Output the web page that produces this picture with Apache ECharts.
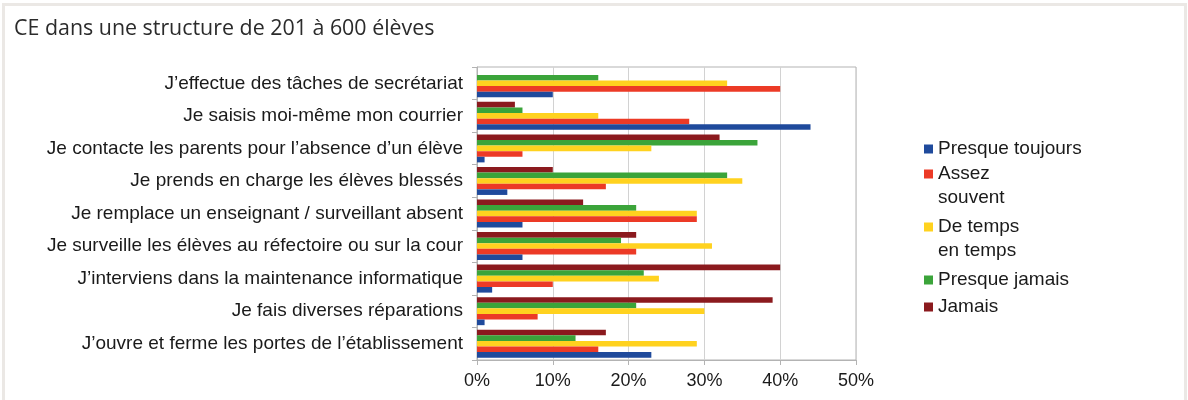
<!DOCTYPE html>
<html>
<head>
<meta charset="utf-8">
<script src="https://cdn.jsdelivr.net/npm/echarts@6/dist/echarts.min.js"></script>
<style>
  html, body { margin: 0; padding: 0; background: #fff; overflow: hidden; }
  #frame { position: absolute; left: 2px; top: 3px; width: 1185px; height: 420px;
           border: 3px solid #ebe8e5; border-bottom: none; box-sizing: border-box; }
  #chart { position: absolute; left: 0; top: 0; width: 1188px; height: 400px; }
</style>
</head>
<body>
<div id="frame"></div>
<div id="chart"></div>
<script>
// Activities of the CE, share of answers per frequency (in %)
const categories = [
  "J’effectue des tâches de secrétariat",
  "Je saisis moi-même mon courrier",
  "Je contacte les parents pour l’absence d’un élève",
  "Je prends en charge les élèves blessés",
  "Je remplace un enseignant / surveillant absent",
  "Je surveille les élèves au réfectoire ou sur la cour",
  "J’interviens dans la maintenance informatique",
  "Je fais diverses réparations",
  "J’ouvre et ferme les portes de l’établissement"
];

const presqueToujours = [10, 44, 1, 4, 6, 6, 2, 1, 23];
const assezSouvent    = [40, 28, 6, 17, 29, 21, 10, 8, 16];
const deTempsEnTemps  = [33, 16, 23, 35, 29, 31, 24, 30, 29];
const presqueJamais   = [16, 6, 37, 33, 21, 19, 22, 21, 13];
const jamais          = [0, 5, 32, 10, 14, 21, 40, 39, 17];

const seriesNames  = ["Presque toujours", "Assez souvent", "De temps en temps", "Presque jamais", "Jamais"];
const legendLabels = ["Presque toujours", "Assez\nsouvent", "De temps\nen temps", "Presque jamais", "Jamais"];
const xTickLabels  = ["0%", "10%", "20%", "30%", "40%", "50%"];

const seriesValues = [presqueToujours, assezSouvent, deTempsEnTemps, presqueJamais, jamais];
const colors = ["#1f4a9c", "#ec3a26", "#ffd21f", "#3ba43a", "#8b1a1e"];

const labelFont = "'Liberation Sans', Arial, sans-serif";
const axisGrey = "#b3b3b3";

// One legend per entry; wrapped names get an empty leading line so the
// marker (centred on the text block) sits beside their first line
const legendIconCenters = [149, 174, 227, 280, 307];
const lineH = 24;
const legends = seriesNames.map((name, i) => {
  const lines = legendLabels[i].split("\n").length;
  const shown = lines > 1 ? "\n".repeat(lines - 1) + legendLabels[i] : legendLabels[i];
  const total = lines > 1 ? 2 * lines - 1 : 1;
  return {
    orient: "vertical",
    left: 924,
    top: legendIconCenters[i] - (total * lineH) / 2,
    padding: 0,
    itemWidth: 9,
    itemHeight: 9,
    icon: "rect",
    data: [name],
    formatter: () => shown,
    textStyle: { fontFamily: labelFont, fontSize: 19, color: "#1a1a1a", lineHeight: lineH }
  };
});

// Bars are stacked top-to-bottom from "Jamais" to "Presque toujours" in each group
const drawOrder = [4, 3, 2, 1, 0];

const chart = echarts.init(document.getElementById("chart"), null, { renderer: "canvas" });
chart.setOption({
  animation: false,
  backgroundColor: "transparent",
  title: {
    text: "CE dans une structure de 201 à 600 élèves",
    left: 14,
    top: 18,
    padding: 0,
    textStyle: { fontFamily: "'Open Sans', sans-serif", fontSize: 21.4, fontWeight: "normal", color: "#2b2b2b", lineHeight: 22 }
  },
  legend: legends,
  grid: {
    left: 477, right: 332, top: 67, bottom: 40,
    show: true, borderColor: axisGrey, borderWidth: 1,
    outerBoundsMode: "none"
  },
  xAxis: {
    type: "value",
    min: 0, max: 50, interval: 10,
    axisLine: { show: true, lineStyle: { color: axisGrey } },
    axisTick: { show: true, length: 5, lineStyle: { color: axisGrey } },
    splitLine: { show: true, lineStyle: { color: "#d2d2d2" } },
    axisLabel: {
      formatter: (v) => xTickLabels[Math.round(v / 10)],
      fontFamily: labelFont, fontSize: 18, color: "#1a1a1a", margin: 12
    }
  },
  yAxis: {
    type: "category",
    data: categories,
    inverse: true,
    axisLine: { show: true, lineStyle: { color: axisGrey } },
    axisTick: { show: true, length: 5, lineStyle: { color: axisGrey } },
    axisLabel: { fontFamily: labelFont, fontSize: 19, color: "#1a1a1a", margin: 14 }
  },
  series: drawOrder.map((i) => ({
    name: seriesNames[i],
    type: "bar",
    data: seriesValues[i],
    itemStyle: { color: colors[i] },
    barGap: "0%",
    barCategoryGap: "14%"
  }))
});
</script>
</body>
</html>
